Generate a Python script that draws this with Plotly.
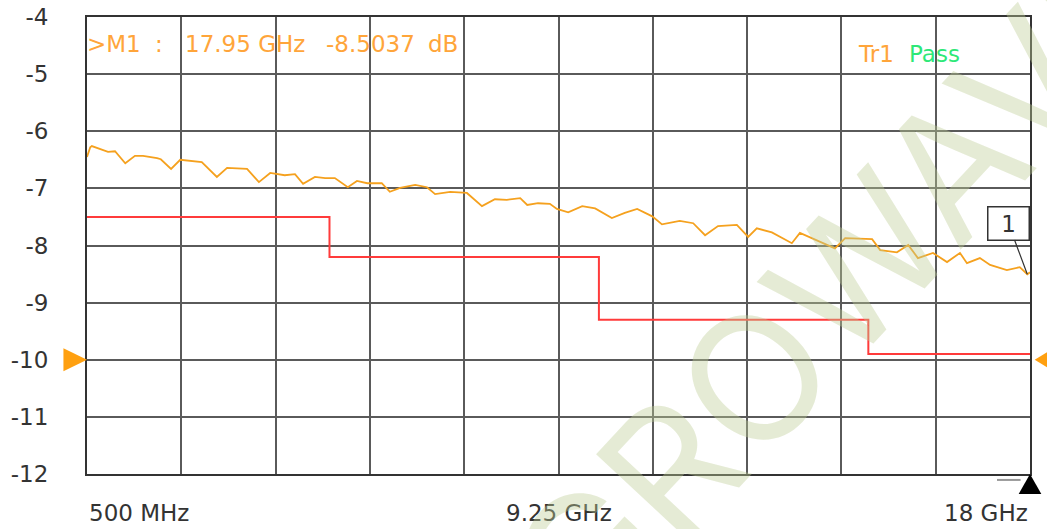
import plotly.graph_objects as go

# measured trace (GHz, dB)
FREQ_GHZ = [0.5, 0.56, 0.59, 0.89, 1.02, 1.21, 1.39, 1.54, 1.80, 1.87, 2.06, 2.23, 2.63, 2.91,
            3.10, 3.47, 3.69, 3.90, 4.17, 4.36, 4.51, 4.73, 4.92, 5.10, 5.34, 5.51, 5.70, 5.97,
            6.12, 6.31, 6.59, 6.81, 6.96, 7.24, 7.55, 7.83, 8.07, 8.29, 8.54, 8.67, 8.87, 9.09,
            9.22, 9.43, 9.69, 9.93, 10.24, 10.48, 10.71, 10.99, 11.17, 11.50, 11.75, 11.97,
            12.21, 12.56, 12.77, 12.93, 13.21, 13.58, 13.73, 14.05, 14.38, 14.57, 15.07, 15.22,
            15.53, 15.74, 15.92, 16.20, 16.46, 16.70, 16.83, 17.07, 17.26, 17.57, 17.81, 17.95, 18.0]
S21_DB = [-6.45, -6.28, -6.26, -6.36, -6.35, -6.56, -6.43, -6.43, -6.47, -6.49, -6.66, -6.50,
          -6.54, -6.80, -6.64, -6.66, -6.89, -6.73, -6.77, -6.75, -6.92, -6.80, -6.82, -6.82,
          -6.98, -6.87, -6.91, -6.91, -7.06, -6.99, -6.94, -6.98, -7.10, -7.06, -7.08, -7.31,
          -7.19, -7.20, -7.17, -7.29, -7.26, -7.27, -7.36, -7.42, -7.31, -7.35, -7.52, -7.43,
          -7.36, -7.49, -7.63, -7.57, -7.61, -7.82, -7.66, -7.64, -7.85, -7.70, -7.77, -7.96,
          -7.78, -7.91, -8.05, -7.87, -7.89, -8.08, -8.12, -7.99, -8.22, -8.13, -8.29, -8.13,
          -8.31, -8.22, -8.34, -8.43, -8.38, -8.5037, -8.47]

# limit line segments
LIMIT_EDGES_GHZ = [0.5, 5, 10, 15, 18]
LIMIT_DB = [-7.5, -8.2, -9.3, -9.9]

MARKER_F = 17.95
MARKER_DB = -8.5037
REF_LEVEL = -10

X_START, X_STOP = 0.5, 18.0
Y_TICKS = [-12, -11, -10, -9, -8, -7, -6, -5, -4]
Y_TICK_TEXT = ["-12", "-11", "-10", "-9", "-8", "-7", "-6", "-5", "-4"]
X_LABELS = [(0.5, "500 MHz", "left"), (9.25, "9.25 GHz", "center"), (18.0, "18 GHz", "right")]

ORANGE = "#f5a11e"
TXT_ORANGE = "#ffa53a"
GRID = "#5a5a5a"
FONT = "DejaVu Sans"

fig = go.Figure()

lim_x = LIMIT_EDGES_GHZ
lim_y = LIMIT_DB + [LIMIT_DB[-1]]
fig.add_trace(go.Scatter(x=lim_x, y=lim_y, mode="lines", line_shape="hv",
                         line=dict(color="#ff3b3b", width=2)))
fig.add_trace(go.Scatter(x=FREQ_GHZ, y=S21_DB, mode="lines",
                         line=dict(color=ORANGE, width=1.8)))

step = (X_STOP - X_START) / 10
fig.update_xaxes(range=[X_START, X_STOP], tickvals=[X_START + i * step for i in range(11)],
                 showticklabels=False, showgrid=True, gridcolor=GRID, gridwidth=1.5,
                 zeroline=False, showline=True, linecolor="#333", linewidth=2, mirror=True,
                 automargin=False)
fig.update_yaxes(range=[Y_TICKS[0], Y_TICKS[-1]], tickvals=Y_TICKS, ticktext=Y_TICK_TEXT,
                 showgrid=True, gridcolor=GRID, gridwidth=1.5,
                 zeroline=False, showline=True, linecolor="#333", linewidth=2, mirror=True,
                 ticks="outside", ticklen=32, tickcolor="rgba(0,0,0,0)", automargin=False,
                 tickfont=dict(family=FONT, size=23, color="#333"))

ann = []
for xv, txt, anchor in X_LABELS:
    ann.append(dict(x=xv, y=-0.085, xref="x", yref="paper", text=txt, showarrow=False,
                    xanchor=anchor, yanchor="middle", font=dict(family=FONT, size=23, color="#333")))

# marker readout
for txt, xp in [(">M1", 0.0), (":", 0.072), ("17.95 GHz", 0.104), ("-8.5037", 0.253), ("dB", 0.3616)]:
    ann.append(dict(x=xp, y=0.94, xref="paper", yref="paper", text=txt, showarrow=False,
                    xanchor="left", yanchor="middle", xshift=-2,
                    font=dict(family=FONT, size=23, color=TXT_ORANGE)))
ann.append(dict(x=0.816, y=0.92, xref="paper", yref="paper", text="Tr1", showarrow=False,
                xanchor="left", yanchor="middle", font=dict(family=FONT, size=23, color=TXT_ORANGE)))
ann.append(dict(x=0.870, y=0.92, xref="paper", yref="paper", text="Pass", showarrow=False,
                xanchor="left", yanchor="middle", font=dict(family=FONT, size=23, color="#2ee878")))

# marker flag
ann.append(dict(x=MARKER_F, y=MARKER_DB, xref="x", yref="y", text="1", showarrow=True,
                arrowhead=0, arrowwidth=1.2, arrowcolor="#333", ax=-19, ay=-51,
                bordercolor="#333", borderwidth=1.5, bgcolor="white", width=38, height=30,
                font=dict(family=FONT, size=23, color="#333")))

# watermark
ann.append(dict(x=0.80, y=0.415, xref="paper", yref="paper", text="GROWAVE", showarrow=False,
                xanchor="center", yanchor="middle", textangle=-47,
                font=dict(family="Inter", size=175, weight=400,
                          color="rgba(190,205,150,0.4)")))

shapes = [
    dict(type="path", xref="paper", yref="y", path="M -0.025,-9.8 L 0,-10 L -0.025,-10.2 Z",
         fillcolor="#ffa010", line=dict(width=0)),
    dict(type="path", xref="paper", yref="y", path="M 1.025,-9.8 L 1.005,-10 L 1.025,-10.2 Z",
         fillcolor="#ffa010", line=dict(width=0)),
    dict(type="path", xref="paper", yref="paper", path="M 0.988,-0.044 L 1.0,0.0 L 1.012,-0.044 Z",
         fillcolor="black", line=dict(width=0)),
    dict(type="line", xref="paper", yref="paper", x0=0.965, x1=0.99, y0=-0.013, y1=-0.013,
         line=dict(color="#999", width=2)),
]

fig.update_layout(width=1047, height=529, margin=dict(l=87, r=17, t=17, b=55),
                  plot_bgcolor="white", paper_bgcolor="white", showlegend=False,
                  annotations=ann, shapes=shapes)

fig.write_html("out.html", config={"displayModeBar": False},
               post_script="document.body.style.margin='0';")
